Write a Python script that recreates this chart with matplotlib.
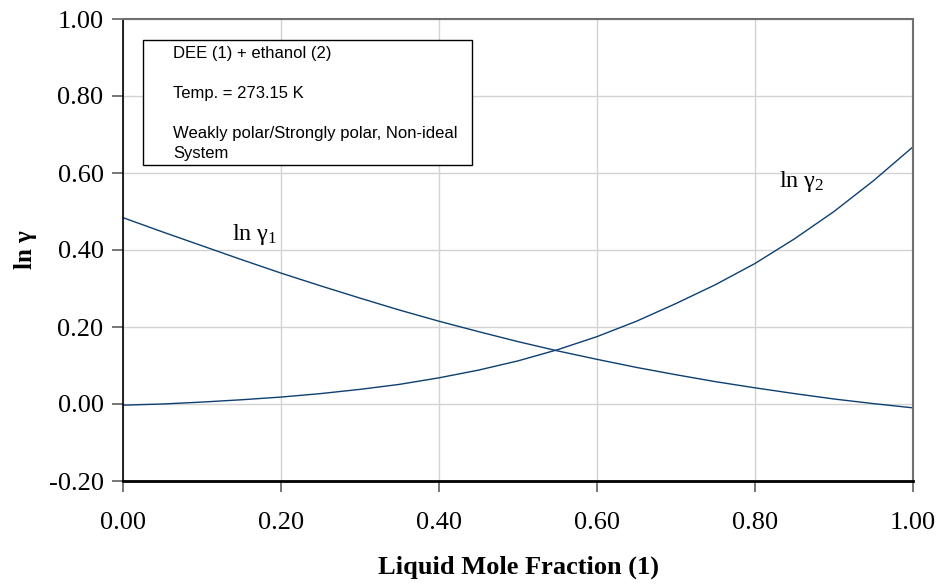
import matplotlib
matplotlib.use("Agg")
import matplotlib.pyplot as plt

plt.rcParams['font.family'] = ['Liberation Serif', 'DejaVu Serif']
plt.rcParams['mathtext.fontset'] = 'custom'
plt.rcParams['mathtext.rm'] = 'Liberation Serif'
plt.rcParams['mathtext.it'] = 'Liberation Serif'

# liquid mole fraction of DEE
x1 = [0.00, 0.05, 0.10, 0.15, 0.20, 0.25, 0.30, 0.35, 0.40, 0.45, 0.50,
      0.55, 0.60, 0.65, 0.70, 0.75, 0.80, 0.85, 0.90, 0.95, 1.00]
# ln gamma values
ln_g1 = [0.484, 0.447, 0.411, 0.375, 0.340, 0.307, 0.275, 0.244, 0.215, 0.188, 0.162,
         0.138, 0.116, 0.095, 0.076, 0.058, 0.042, 0.027, 0.013, 0.001, -0.010]
ln_g2 = [-0.003, 0.000, 0.005, 0.011, 0.018, 0.027, 0.038, 0.051, 0.068, 0.088, 0.112,
         0.141, 0.175, 0.215, 0.261, 0.310, 0.365, 0.429, 0.500, 0.580, 0.668]

xticks = [0.0, 0.2, 0.4, 0.6, 0.8, 1.0]
yticks = [-0.2, 0.0, 0.2, 0.4, 0.6, 0.8, 1.0]

fig = plt.figure(figsize=(9.43, 5.84), dpi=100)
ax = fig.add_axes([123 / 943, 1 - 481 / 584, 790 / 943, 462 / 584])

line_col = '#0d3f70'
ax.plot(x1, ln_g1, color=line_col, lw=1.0)
ax.plot(x1, ln_g2, color=line_col, lw=1.0)

ax.set_xlim(0, 1)
ax.set_ylim(-0.2, 1.0)
ax.set_xticks(xticks)
ax.set_yticks(yticks)
ax.set_xticklabels(['%.2f' % v for v in xticks])
ax.set_yticklabels(['%.2f' % v for v in yticks])
ax.tick_params(axis='both', labelsize=19, direction='out', length=8,
               width=1.2, color='#606060')
ax.tick_params(axis='x', pad=14)
ax.tick_params(axis='y', pad=6)

ax.grid(True, color='#d3d3d3', lw=1.0)
ax.set_axisbelow(True)

ax.spines['left'].set_color('black')
ax.spines['left'].set_linewidth(1.2)
ax.spines['bottom'].set_color('black')
ax.spines['bottom'].set_linewidth(2.0)
for s in ['top', 'right']:
    ax.spines[s].set_color('#707070')
    ax.spines[s].set_linewidth(1.5)

ax.set_xlabel('Liquid Mole Fraction (1)', fontsize=19, fontweight='bold', labelpad=16)
ax.set_ylabel('ln γ', fontsize=18, fontweight='bold', labelpad=8)

ax.text(0.138, 0.426, 'ln γ$_1$', fontsize=17.5, va='baseline')
ax.text(0.830, 0.564, 'ln γ$_2$', fontsize=17.5, va='baseline')

# info box
box_txt = ('DEE (1) + ethanol (2)\n\nTemp. = 273.15 K\n\n'
           'Weakly polar/Strongly polar, Non-ideal\nSystem')
fig.patches.append(plt.Rectangle((143 / 943, 1 - 165 / 584), 329 / 943, 125 / 584,
                                 transform=fig.transFigure, fill=True, facecolor='white',
                                 edgecolor='black', lw=1.0, zorder=5))
fig.text(173 / 943, 1 - 46 / 584, box_txt, family=['Liberation Sans', 'DejaVu Sans'],
         fontsize=12, va='top', ha='left', linespacing=1.42, zorder=6)

fig.savefig('out.png', dpi=100)
